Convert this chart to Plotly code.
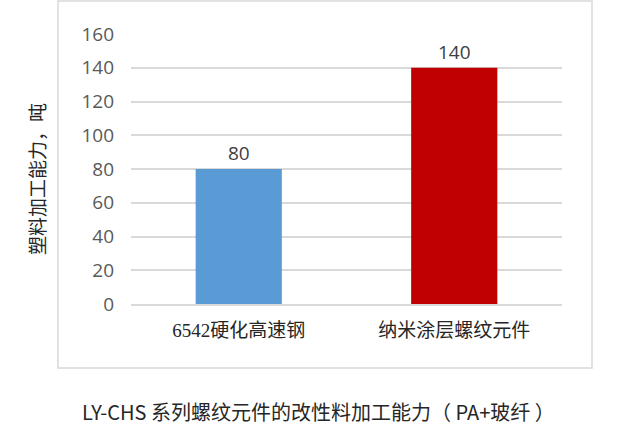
import plotly.graph_objects as go

# Data
categories = ["6542硬化高速钢", "纳米涂层螺纹元件"]
values = [80, 140]
bar_colors = ["#5B9BD5", "#C00000"]
y_ticks = [0, 20, 40, 60, 80, 100, 120, 140, 160]

W, H = 617, 430
ml, mr, mt, mb = 131, 55, 34, 126
pw, ph = W - ml - mr, H - mt - mb


def px_x(x):
    # pixel -> paper x
    return (x - ml) / pw


def px_y(y):
    # pixel -> paper y
    return (H - mb - y) / ph


fig = go.Figure(
    go.Bar(
        x=categories,
        y=values,
        marker=dict(color=bar_colors, line=dict(width=0)),
        width=0.4,
        text=values,
        textposition="outside",
        textfont=dict(family="Open Sans, Noto Sans", size=19, color="#404040"),
        cliponaxis=False,
    )
)

fig.update_layout(
    width=W,
    height=H,
    margin=dict(l=ml, r=mr, t=mt, b=mb),
    paper_bgcolor="white",
    plot_bgcolor="white",
    showlegend=False,
    xaxis=dict(
        showgrid=False,
        showline=True,
        linecolor="#D9D9D9",
        linewidth=1.5,
        ticks="",
        ticklabelstandoff=8,
        tickfont=dict(family="Liberation Serif, Noto Sans CJK SC", size=19, color="#262626"),
    ),
    yaxis=dict(
        range=[0, 160],
        tickvals=y_ticks,
        showgrid=True,
        gridcolor="#D9D9D9",
        gridwidth=1.5,
        zeroline=False,
        showline=False,
        ticks="",
        ticklabelstandoff=16,
        tickfont=dict(family="Open Sans, Noto Sans", size=19, color="#595959"),
    ),
)

# outer chart-area border
fig.add_shape(
    type="rect",
    xref="paper",
    yref="paper",
    x0=px_x(58),
    x1=px_x(592),
    y0=px_y(368),
    y1=px_y(1),
    line=dict(color="#D9D9D9", width=1.5),
    fillcolor="rgba(0,0,0,0)",
    layer="below",
)

# y axis title
fig.add_annotation(
    text="塑料加工能力，吨",
    xref="paper",
    yref="paper",
    x=px_x(37),
    y=px_y(179),
    xanchor="center",
    yanchor="middle",
    textangle=-90,
    showarrow=False,
    font=dict(family="Noto Sans CJK SC", size=19, color="#262626"),
)

# caption under the chart
fig.add_annotation(
    text="LY-CHS 系列螺纹元件的改性料加工能力（ PA+玻纤 ）",
    xref="paper",
    yref="paper",
    x=px_x(318),
    y=px_y(411),
    xanchor="center",
    yanchor="middle",
    showarrow=False,
    font=dict(family="Noto Sans CJK SC", size=20, color="#262626"),
)

fig.write_html(
    "out.html",
    config={"displayModeBar": False},
    post_script="document.body.style.margin='0';",
)
